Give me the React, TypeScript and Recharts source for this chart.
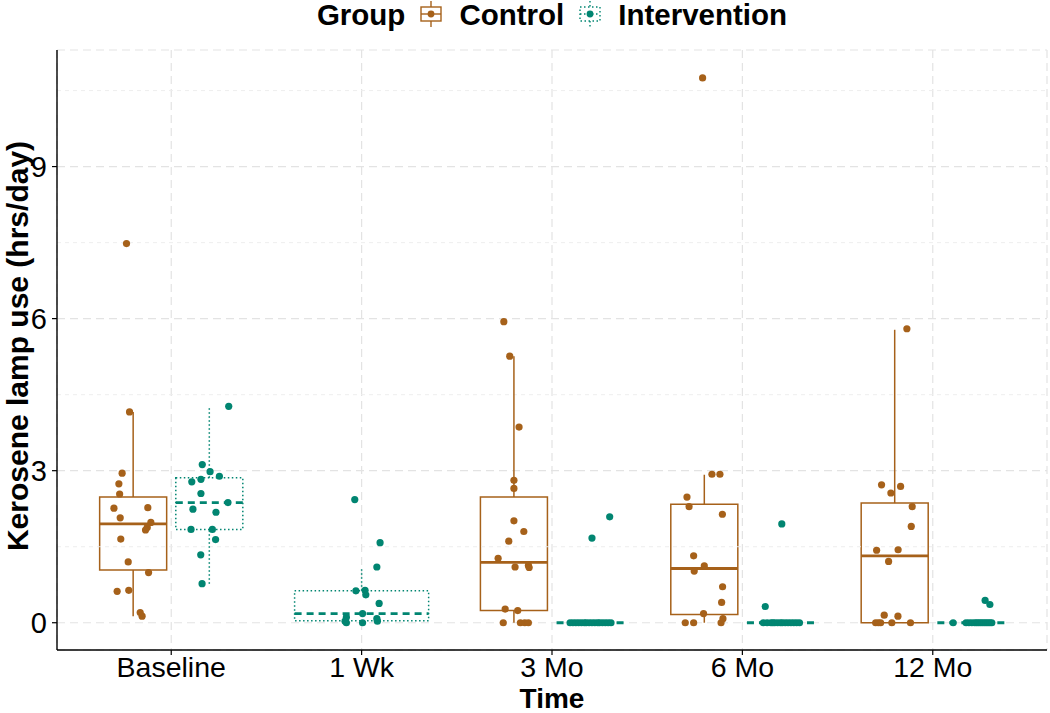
import React from 'react';
import {
  ComposedChart,
  Scatter,
  XAxis,
  YAxis,
  CartesianGrid,
  ReferenceArea,
  ReferenceLine,
  Legend,
  Label,
} from 'recharts';

const categories = ['Baseline', '1 Wk', '3 Mo', '6 Mo', '12 Mo'];
const yTicks = [0, 3, 6, 9];
const yMinorTicks = [1.5, 4.5, 7.5, 10.5];

// box statistics per time point (null = no box)
const controlLow = [0.13, null, 0, 0, 0];
const controlQ1 = [1.04, null, 0.24, 0.16, 0];
const controlMedian = [1.95, null, 1.19, 1.07, 1.32];
const controlQ3 = [2.48, null, 2.48, 2.34, 2.36];
const controlHigh = [4.16, null, 5.26, 2.92, 5.78];

const interventionLow = [0.77, 0, 0, 0, 0];
const interventionQ1 = [1.84, 0.04, 0, 0, 0];
const interventionMedian = [2.37, 0.18, 0, 0, 0];
const interventionQ3 = [2.86, 0.63, 0, 0, 0];
const interventionHigh = [4.26, 1.07, 0, 0, 0];

const controlValues = [
  [7.48, 4.16, 2.95, 2.74, 2.54, 2.26, 2.27, 2.07, 1.98, 1.88, 1.83, 1.65, 1.2, 0.99, 0.62, 0.64, 0.2, 0.13],
  [],
  [5.94, 5.26, 3.86, 2.81, 2.65, 2.01, 1.8, 1.61, 1.27, 1.1, 1.13, 1.09, 0.27, 0.24, 0, 0, 0, 0],
  [10.75, 2.93, 2.93, 2.48, 2.29, 2.14, 1.32, 1.12, 1.02, 0.71, 0.4, 0.18, 0, 0, 0, 0.08],
  [5.8, 2.72, 2.69, 2.56, 2.29, 1.9, 1.43, 1.44, 1.21, 0.15, 0.13, 0, 0, 0, 0, 0],
];
const controlJitter = [
  [-0.035, -0.019, -0.058, -0.075, -0.071, -0.101, 0.077, -0.068, 0.093, 0.074, 0.065, -0.065, -0.026, 0.081, -0.084, -0.023, 0.037, 0.047],
  [],
  [-0.053, -0.022, 0.027, 0, 0, 0, 0.052, -0.027, -0.083, 0.006, 0.076, 0.08, -0.046, 0.02, -0.056, 0.034, 0.057, 0.076],
  [-0.009, 0.04, 0.082, -0.091, -0.08, 0.095, -0.056, 0, -0.053, 0.096, 0.091, -0.004, -0.1, -0.056, 0.088, 0.098],
  [0.064, -0.069, 0.031, -0.02, 0.092, 0.087, -0.095, 0.018, -0.032, -0.055, 0.017, -0.1, -0.086, -0.074, -0.015, 0.083],
];

const interventionValues = [
  [4.27, 3.12, 2.98, 2.89, 2.78, 2.83, 2.55, 2.37, 2.24, 2.18, 1.84, 1.84, 1.64, 1.34, 0.77],
  [2.43, 1.58, 1.1, 0.63, 0.64, 0.55, 0.38, 0.18, 0.11, 0, 0.03, 0, 0.08, 0.03],
  [2.09, 1.67, 0, 0, 0, 0, 0, 0, 0, 0, 0, 0, 0, 0, 0, 0, 0, 0],
  [1.95, 0.32, 0, 0, 0, 0, 0, 0, 0, 0, 0, 0, 0, 0, 0, 0],
  [0.44, 0.36, 0, 0, 0, 0, 0, 0, 0, 0, 0, 0, 0, 0, 0, 0],
];
const interventionJitter = [
  [0.102, -0.037, 0.004, 0.053, -0.092, -0.044, -0.044, 0.098, -0.086, 0.035, -0.096, 0.016, 0.033, -0.045, -0.038],
  [-0.036, 0.097, 0.08, -0.03, 0.018, 0.022, 0.092, 0.005, -0.08, -0.08, -0.087, 0.005, 0.08, 0.083],
  [0.103, 0.01, -0.105, -0.09, -0.075, -0.06, -0.045, -0.03, -0.02, -0.005, 0.01, 0.025, 0.04, 0.05, 0.065, 0.08, 0.095, 0.11],
  [0.007, -0.08, -0.09, -0.07, -0.05, -0.04, -0.03, -0.015, 0, 0.01, 0.025, 0.04, 0.055, 0.07, 0.085, 0.1],
  [0.075, 0.1, -0.093, -0.025, -0.01, 0.005, 0.02, 0.03, 0.04, 0.05, 0.06, 0.07, 0.08, 0.09, 0.1, 0.11],
];

const CONTROL = '#A6611A';
const INTERVENTION = '#018571';
const FONT = '"Liberation Sans", Arial, Helvetica, sans-serif';
const DODGE = 0.2;
const HALF = 0.176;

// where each group's box sits for a time point
function groupCenter(i: number, group: 'c' | 'i') {
  const hasControl = controlMedian[i] != null;
  if (!hasControl) return i + 1;
  return i + 1 + (group === 'c' ? -DODGE : DODGE);
}
function groupHalf(i: number) {
  return controlMedian[i] == null ? HALF * 2 : HALF;
}

function buildPoints(values: number[][], jitter: number[][], group: 'c' | 'i') {
  const out: { x: number; y: number }[] = [];
  values.forEach((vals, i) => {
    vals.forEach((v, k) => {
      out.push({ x: groupCenter(i, group) + jitter[i][k], y: v });
    });
  });
  return out;
}

const controlPoints = buildPoints(controlValues, controlJitter, 'c');
const interventionPoints = buildPoints(interventionValues, interventionJitter, 'i');

function LegendIcon({ color, dotted }: { color: string; dotted: boolean }) {
  const dash = dotted ? '1.5 2.5' : undefined;
  return (
    <svg width={24} height={26} style={{ display: 'block', marginTop: 1 }}>
      <line x1={12} x2={12} y1={0} y2={26} stroke={color} strokeWidth={1.4} strokeDasharray={dash} />
      <rect x={2} y={6} width={20} height={14} fill="#fff" stroke={color} strokeWidth={1.4} strokeDasharray={dash} />
      <line x1={2} x2={22} y1={13} y2={13} stroke={color} strokeWidth={1.4} strokeDasharray={dash} />
      <circle cx={12} cy={13} r={3.4} fill={color} />
    </svg>
  );
}

function GroupLegend() {
  const text: React.CSSProperties = { fontWeight: 'bold', fontSize: 29.5, lineHeight: '30px', color: '#000' };
  return (
    <div
      style={{
        height: 50,
        width: 1050,
        paddingLeft: 57,
        paddingRight: 3,
        boxSizing: 'border-box',
        display: 'flex',
        justifyContent: 'center',
        alignItems: 'flex-start',
        fontFamily: FONT,
      }}
    >
      <span style={{ ...text, marginRight: 14 }}>Group</span>
      <LegendIcon color={CONTROL} dotted={false} />
      <span style={{ ...text, marginLeft: 16, marginRight: 14 }}>Control</span>
      <LegendIcon color={INTERVENTION} dotted />
      <span style={{ ...text, marginLeft: 16 }}>Intervention</span>
    </div>
  );
}

function boxElements(
  group: 'c' | 'i',
  low: (number | null)[],
  q1: (number | null)[],
  med: (number | null)[],
  q3: (number | null)[],
  high: (number | null)[],
  color: string,
) {
  const dotted = group === 'i';
  const lineDash = dotted ? '1.5 2.5' : undefined;
  const medDash = dotted ? '7 5' : undefined;
  const els: React.ReactNode[] = [];
  med.forEach((m, i) => {
    if (m == null) return;
    const c = groupCenter(i, group);
    const h = groupHalf(i);
    els.push(
      <ReferenceArea
        key={`${group}-box-${i}`}
        x1={c - h}
        x2={c + h}
        y1={q1[i] as number}
        y2={q3[i] as number}
        fill="#fff"
        fillOpacity={1}
        stroke={color}
        strokeWidth={1.5}
        strokeDasharray={lineDash}
      />,
    );
    els.push(
      <ReferenceLine
        key={`${group}-up-${i}`}
        segment={[{ x: c, y: q3[i] as number }, { x: c, y: high[i] as number }]}
        stroke={color}
        strokeWidth={1.5}
        strokeDasharray={lineDash}
      />,
    );
    els.push(
      <ReferenceLine
        key={`${group}-lo-${i}`}
        segment={[{ x: c, y: low[i] as number }, { x: c, y: q1[i] as number }]}
        stroke={color}
        strokeWidth={1.5}
        strokeDasharray={lineDash}
      />,
    );
    els.push(
      <ReferenceLine
        key={`${group}-med-${i}`}
        segment={[{ x: c - h, y: m }, { x: c + h, y: m }]}
        stroke={color}
        strokeWidth={2.9}
        strokeDasharray={medDash}
      />,
    );
  });
  return els;
}

const dot = (color: string) => (props: any) => (
  <circle cx={props.cx} cy={props.cy} r={3.6} fill={color} />
);

export default function App() {
  return (
    <div style={{ position: 'absolute', left: 0, top: 0, width: 1050, height: 713, background: '#fff', fontFamily: FONT }}>
      <ComposedChart width={1050} height={713} margin={{ top: 0, right: 3, bottom: 0, left: 0 }}>
        <CartesianGrid stroke="#e3e3e3" strokeWidth={1.2} strokeDasharray="8 5" />
        {yMinorTicks.map((t) => (
          <ReferenceLine key={`minor-${t}`} y={t} stroke="#ececec" strokeWidth={0.9} strokeDasharray="4 4" />
        ))}
        <XAxis
          type="number"
          dataKey="x"
          domain={[0.4, 5.6]}
          allowDataOverflow
          ticks={[1, 2, 3, 4, 5]}
          tickFormatter={(v: number) => categories[v - 1] ?? ''}
          height={63}
          tickSize={5}
          tickMargin={2}
          tick={{ fontSize: 28.5, fill: '#000', fontFamily: FONT }}
          axisLine={{ stroke: '#000', strokeWidth: 1.4 }}
          tickLine={{ stroke: '#000', strokeWidth: 1.2 }}
        >
          <Label
            content={(props: any) => {
              const vb = props.viewBox;
              return (
                <text x={vb.x + vb.width / 2} y={vb.y + vb.height - 5} textAnchor="middle" fontSize={28} fontWeight="bold" fontFamily={FONT} fill="#000">
                  Time
                </text>
              );
            }}
          />
        </XAxis>
        <YAxis
          type="number"
          dataKey="y"
          domain={[-0.538, 11.3]}
          allowDataOverflow
          ticks={yTicks}
          width={57}
          tickSize={5}
          tickMargin={5}
          tick={{ fontSize: 29, fill: '#000', fontFamily: FONT }}
          axisLine={{ stroke: '#000', strokeWidth: 1.4 }}
          tickLine={{ stroke: '#000', strokeWidth: 1.2 }}
        >
          <Label
            content={(props: any) => {
              const vb = props.viewBox;
              const cx = vb.x + 17.5;
              const cy = vb.y + vb.height / 2 - 4;
              return (
                <text
                  x={cx}
                  y={cy}
                  transform={`rotate(-90, ${cx}, ${cy})`}
                  textAnchor="middle"
                  dominantBaseline="central"
                  fontSize={30}
                  fontWeight="bold"
                  fontFamily={FONT}
                  fill="#000"
                >
                  Kerosene lamp use (hrs/day)
                </text>
              );
            }}
          />
        </YAxis>
        <Legend verticalAlign="top" wrapperStyle={{ top: 0, left: 0, width: 1050, height: 50 }} content={() => <GroupLegend />} />
        {boxElements('c', controlLow, controlQ1, controlMedian, controlQ3, controlHigh, CONTROL)}
        {boxElements('i', interventionLow, interventionQ1, interventionMedian, interventionQ3, interventionHigh, INTERVENTION)}
        <Scatter name="Control" data={controlPoints} fill={CONTROL} shape={dot(CONTROL)} isAnimationActive={false} />
        <Scatter name="Intervention" data={interventionPoints} fill={INTERVENTION} shape={dot(INTERVENTION)} isAnimationActive={false} />
      </ComposedChart>
    </div>
  );
}
